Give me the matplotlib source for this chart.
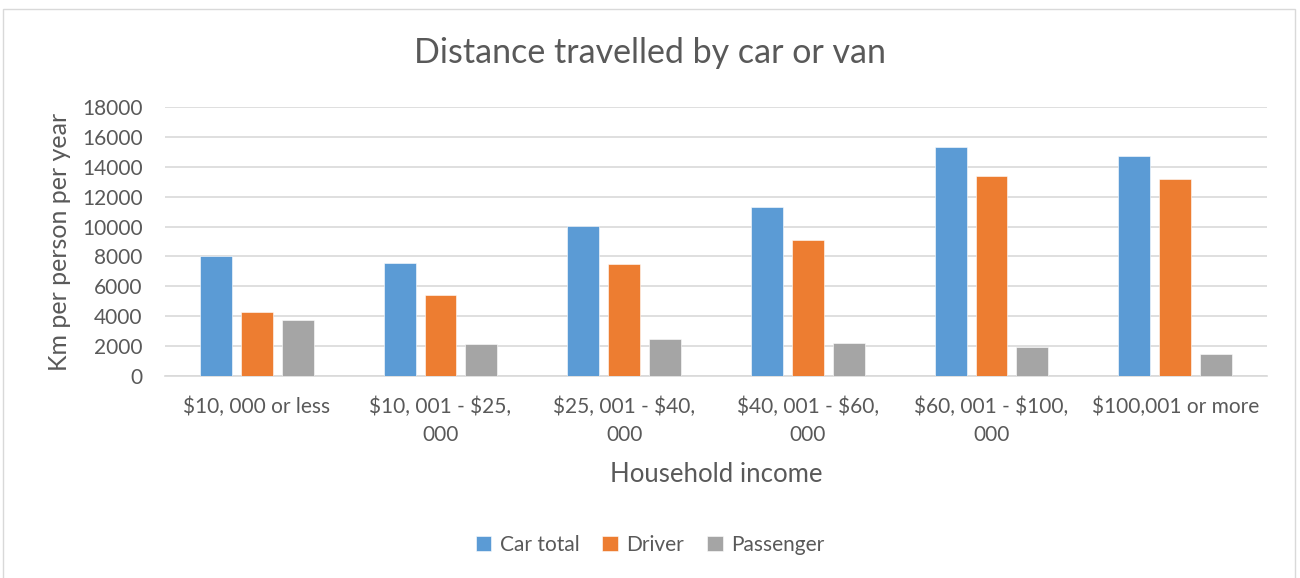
import numpy as np
import matplotlib
matplotlib.use("Agg")
import matplotlib.pyplot as plt
from matplotlib.patches import Rectangle

plt.rcParams['font.family'] = ['Lato', 'DejaVu Sans']

# Data
categories = [
    "\\$10, 000 or less",
    "\\$10, 001 - \\$25,\n000",
    "\\$25, 001 - \\$40,\n000",
    "\\$40, 001 - \\$60,\n000",
    "\\$60, 001 - \\$100,\n000",
    "\\$100,001 or more",
]
car_total = [8000, 7580, 10030, 11330, 15350, 14700]
driver = [4250, 5410, 7490, 9120, 13410, 13180]
passenger = [3730, 2120, 2500, 2190, 1940, 1500]
series_names = ["Car total", "Driver", "Passenger"]
colors = ["#5b9bd5", "#ed7d31", "#a5a5a5"]
yticks = np.arange(0, 18001, 2000)

TEXT = "#595959"

fig = plt.figure(figsize=(13, 5.78), dpi=100)
ax = fig.add_axes([165 / 1300, 1 - 376 / 578, 1102 / 1300, 269 / 578])

# chart border
fig.patches.append(Rectangle((3 / 1300, -0.01), 1292 / 1300, 1 - 9 / 578 + 0.01,
                             transform=fig.transFigure, fill=False,
                             edgecolor="#d9d9d9", linewidth=1))

x = np.arange(len(categories))
width = 0.174
step = 0.223
for i, (vals, name, c) in enumerate(zip([car_total, driver, passenger], series_names, colors)):
    ax.bar(x + (i - 1) * step, vals, width, color=c, label=name,
           edgecolor="white", linewidth=0.4, zorder=3)

ax.set_xlim(-0.5, len(categories) - 0.5)
ax.set_ylim(0, 18000)
ax.set_yticks(yticks)
ax.set_yticklabels([str(v) for v in yticks])
ax.set_xticks(x)
ax.set_xticklabels(categories, multialignment="center", linespacing=1.5)
ax.tick_params(axis="both", length=0, labelsize=15, colors=TEXT)
ax.tick_params(axis="x", pad=15)
ax.tick_params(axis="y", pad=16)

ax.grid(axis="y", color="#d9d9d9", linewidth=1.2, zorder=0)
for s in ["top", "right", "left"]:
    ax.spines[s].set_visible(False)
ax.spines["bottom"].set_color("#d9d9d9")
ax.spines["bottom"].set_linewidth(1.2)

ax.set_xlabel("Household income", fontsize=18.5, color=TEXT, labelpad=12)
ax.set_ylabel("Km per person per year", fontsize=18, color=TEXT, labelpad=8)

fig.text(0.5, 1 - 53 / 578, "Distance travelled by car or van", ha="center", va="center",
         fontsize=24.5, color=TEXT)

fig.legend(loc="center", bbox_to_anchor=(0.5, 1 - 545 / 578), ncol=3, frameon=False,
           fontsize=15, handlelength=0.75, handleheight=0.75, handletextpad=0.4,
           columnspacing=1.1, labelcolor=TEXT)

fig.savefig("out.png", dpi=100)
